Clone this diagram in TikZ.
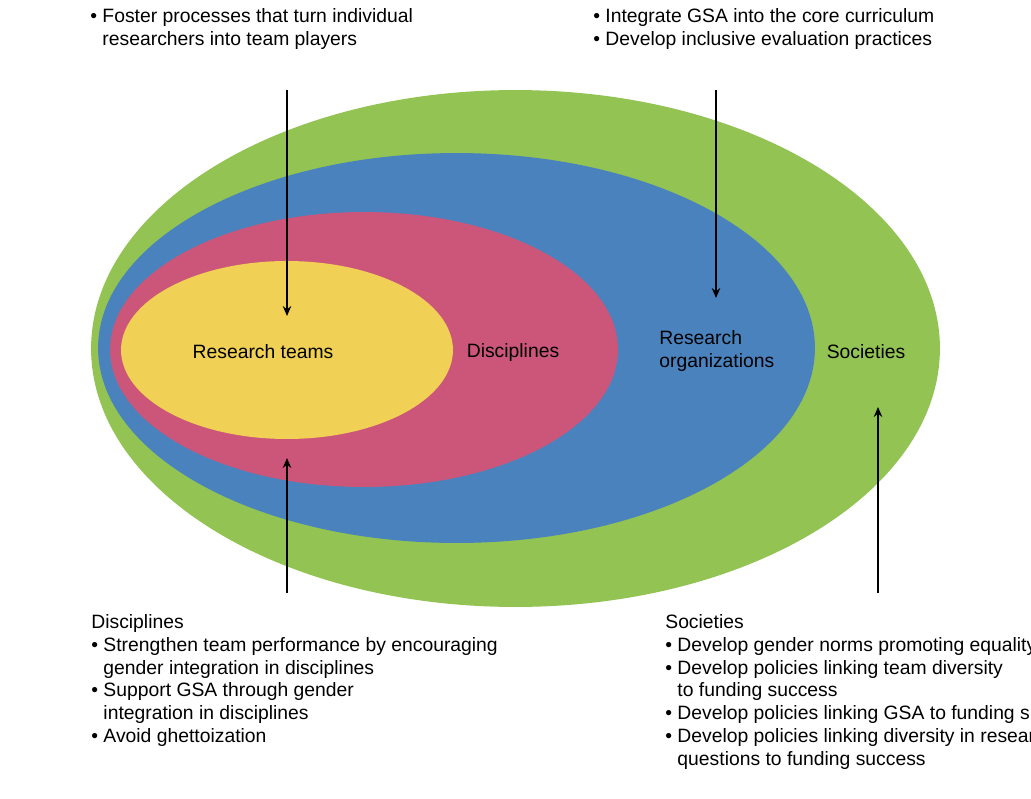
\documentclass[tikz,border=0pt]{standalone}
\usepackage{fontspec}
\setmainfont{Liberation Sans}
\usetikzlibrary{arrows.meta}
\definecolor{ink}{HTML}{000000}
\definecolor{societyfill}{HTML}{92C353}
\definecolor{orgfill}{HTML}{4A82BE}
\definecolor{disciplinefill}{HTML}{CB567A}
\definecolor{teamfill}{HTML}{F0D055}
\newcommand{\eleven}{\fontsize{11}{13}\selectfont}
\newcommand{\bul}{\textbullet\ }
\newcommand{\hang}{\hphantom{\textbullet\ }}
\tikzset{
 every node/.append style={font=\eleven,text=ink},
 ring/.style={draw=none},
 level/.style={inner sep=0pt},
 notes/.style={align=left,inner sep=0pt,anchor=north west},
 push/.style={-{Stealth[length=2mm,width=1.7mm]},draw=ink,line width=.8pt},
}

\begin{document}
\begin{tikzpicture}[x=0.02cm,y=-0.02cm]

\useasboundingbox (0,0) rectangle (1031,798);
\fill[ring,societyfill] (515.5,348.5) ellipse [x radius=8.49cm,y radius=5.17cm];
\fill[ring,orgfill] (456.5,348) ellipse [x radius=7.17cm,y radius=3.9cm];
\fill[ring,disciplinefill] (364,349.5) ellipse [x radius=5.08cm,y radius=2.75cm];
\fill[ring,teamfill] (287,350) ellipse [x radius=3.32cm,y radius=1.78cm];
\node[level] (teams) at (263,352) {Research teams};
\node[level] (disc) at (513,352) {Disciplines};
\node[level,anchor=west,align=left] (orgs) at (659,351) {Research\\organizations};
\node[level] (soc) at (866,352) {Societies};
\node[notes] (teamnotes) at (90,8) {\bul Foster processes that turn individual\\\hang researchers into team players};
\node[notes] (orgnotes) at (593,8) {\bul Integrate GSA into the core curriculum\\\bul Develop inclusive evaluation practices};
\node[notes] (discnotes) at (91,614) {Disciplines\\\bul Strengthen team performance by encouraging\\\hang gender integration in disciplines\\\bul Support GSA through gender\\\hang integration in disciplines\\\bul Avoid ghettoization};
\node[notes] (socnotes) at (665,614) {Societies\\\bul Develop gender norms promoting equality\\\bul Develop policies linking team diversity\\\hang to funding success\\\bul Develop policies linking GSA to funding success\\\bul Develop policies linking diversity in research\\\hang questions to funding success};
\coordinate (teamtop) at (287,90);
\coordinate (teamin) at (287,316);
\coordinate (orgtop) at (716,90);
\coordinate (orgin) at (716,298);
\coordinate (discfoot) at (287,593);
\coordinate (discin) at (287,458);
\coordinate (socfoot) at (878,593);
\coordinate (socin) at (878,407);
\draw[push] (teamtop) -- (teamin);
\draw[push] (orgtop) -- (orgin);
\draw[push] (discfoot) -- (discin);
\draw[push] (socfoot) -- (socin);

\end{tikzpicture}
\end{document}
